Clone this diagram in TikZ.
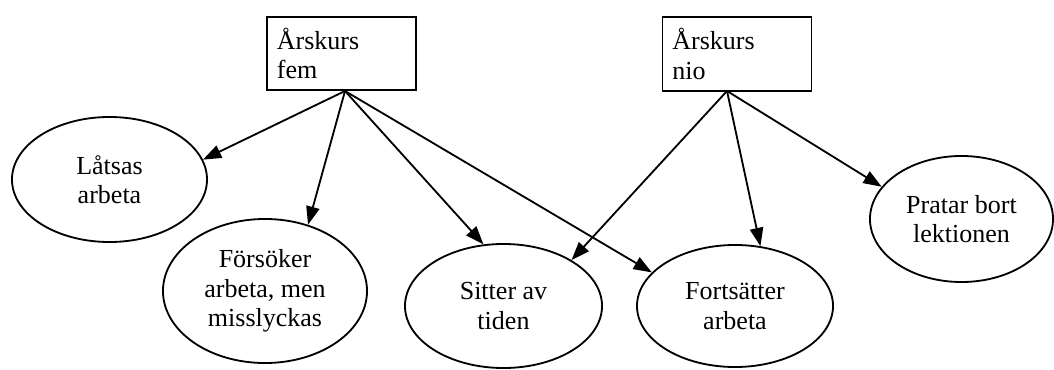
\documentclass[tikz,border=0pt]{standalone}
\usepackage{fontspec}
\setmainfont{Liberation Serif}
\usetikzlibrary{shapes.geometric,arrows.meta}

\begin{document}
\begin{tikzpicture}[x=0.025cm,y=-0.025cm,line width=1.3pt,font=\fontsize{18.5}{20.8}\selectfont,
	grade/.style={draw,rectangle,align=left,text width=3.23cm,inner xsep=7pt,inner ysep=8pt},
	act/.style 2 args={draw,ellipse,align=center,inner sep=0pt,minimum width=#1,minimum height=#2},
	link/.style={-{Triangle[length=13pt,width=9.5pt]}}]
	%page
	\useasboundingbox (0,0) rectangle (1054,369);

	%grades
	\node[grade] (fem) at (341.5,53.5) {Årskurs\\fem}; %year five
	\node[grade] (nio) at (737,54) {Årskurs\\nio}; %year nine
	\coordinate (femfoot) at (345,91); %start of the fem arrows
	\coordinate (niofoot) at (727,91); %start of the nio arrows

	%behaviours
	\node[act={4.875cm}{3.125cm}] (latsas) at (109.5,179.5) {Låtsas\\arbeta};
	\node[act={5.1cm}{3.6cm}] (forsoker) at (265,291) {Försöker\\arbeta, men\\misslyckas};
	\node[act={4.925cm}{3.1cm}] (sitter) at (503.5,306) {Sitter av\\tiden};
	\node[act={4.9cm}{3.05cm}] (fortsatter) at (735,306) {Fortsätter\\arbeta};
	\node[act={4.575cm}{3.15cm}] (pratar) at (961.5,219) {Pratar bort\\lektionen};

	%arrows
	\draw[link] (femfoot) -- (latsas.12); %fem
	\draw[link] (femfoot) -- (forsoker.57);
	\draw[link] (femfoot) -- (sitter.108);
	\draw[link] (femfoot) -- (fortsatter.158);
	\draw[link] (niofoot) -- (sitter.34); %nio
	\draw[link] (niofoot) -- (fortsatter.67);
	\draw[link] (niofoot) -- (pratar.158);
\end{tikzpicture}
\end{document}
